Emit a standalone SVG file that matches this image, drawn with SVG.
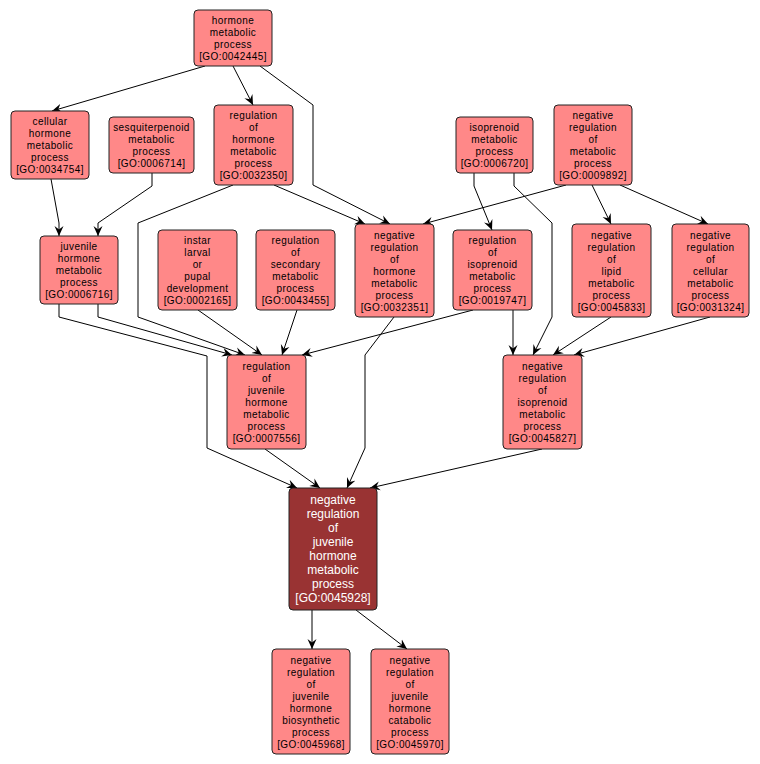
<svg xmlns="http://www.w3.org/2000/svg" width="760" height="764" viewBox="0 0 760 764">
<style>
.n rect{fill:#ff8888;stroke:#222;stroke-width:1}
.n text{font-family:"Liberation Sans",Arial,sans-serif;font-size:10px;letter-spacing:0.4px;fill:#000;text-anchor:middle}
.m rect{fill:#993333;stroke:#222;stroke-width:1}
.m text{font-family:"Liberation Sans",Arial,sans-serif;font-size:12px;fill:#fff;text-anchor:middle}
.e polyline{fill:none;stroke:#000;stroke-width:1;marker-end:url(#a)}
</style>
<defs>
<marker id="a" viewBox="0 -5 10 10" refX="10" refY="0" markerWidth="10" markerHeight="10" markerUnits="userSpaceOnUse" orient="auto">
<path d="M0,-4.5 L10,0 L0,4.5 L3.5,0 Z" fill="#000"/>
</marker>
</defs>
<rect width="760" height="764" fill="#fff"/>
<g id="connectors" class="e">
<polyline points="205,66 52,111"/>
<polyline points="233,66 253,105"/>
<polyline points="260,66 313,105 313,185 390,224"/>
<polyline points="274,185 365,224"/>
<polyline points="233,185 138,223 138,317 245,355"/>
<polyline points="152,173 152,186 98,223 98,236"/>
<polyline points="51,179 59,223 59,236"/>
<polyline points="474,173 474,186 492,230"/>
<polyline points="514,173 514,186 552,223 552,317 533,355"/>
<polyline points="566,185 423,224"/>
<polyline points="592,185 611,224"/>
<polyline points="620,185 708,224"/>
<polyline points="59,304 59,317 207,356 207,448 297,488"/>
<polyline points="98,304 98,317 232,355"/>
<polyline points="198,310 262,355"/>
<polyline points="297,310 282,355"/>
<polyline points="473,310 302,355"/>
<polyline points="513,310 513,355"/>
<polyline points="611,317 553,355"/>
<polyline points="710,317 574,355"/>
<polyline points="394,317 365,355 365,448 347,488"/>
<polyline points="265,449 320,488"/>
<polyline points="542,449 370,488"/>
<polyline points="312,610 312,649"/>
<polyline points="356,610 407,649"/>
</g>
<g id="GO0042445" class="n"><rect x="194" y="10" width="78" height="56" rx="4"/>
<text x="233" y="24">hormone</text><text x="233" y="36">metabolic</text><text x="233" y="48">process</text><text x="233" y="60">[GO:0042445]</text></g>
<g id="GO0034754" class="n"><rect x="11" y="111" width="78" height="68" rx="4"/>
<text x="50" y="125">cellular</text><text x="50" y="137">hormone</text><text x="50" y="149">metabolic</text><text x="50" y="161">process</text><text x="50" y="173">[GO:0034754]</text></g>
<g id="GO0006714" class="n"><rect x="109" y="117" width="85" height="56" rx="4"/>
<text x="151.5" y="131">sesquiterpenoid</text><text x="151.5" y="143">metabolic</text><text x="151.5" y="155">process</text><text x="151.5" y="167">[GO:0006714]</text></g>
<g id="GO0032350" class="n"><rect x="214" y="105" width="79" height="80" rx="4"/>
<text x="253.5" y="119">regulation</text><text x="253.5" y="131">of</text><text x="253.5" y="143">hormone</text><text x="253.5" y="155">metabolic</text><text x="253.5" y="167">process</text><text x="253.5" y="179">[GO:0032350]</text></g>
<g id="GO0006720" class="n"><rect x="456" y="117" width="77" height="56" rx="4"/>
<text x="494.5" y="131">isoprenoid</text><text x="494.5" y="143">metabolic</text><text x="494.5" y="155">process</text><text x="494.5" y="167">[GO:0006720]</text></g>
<g id="GO0009892" class="n"><rect x="554" y="105" width="78" height="80" rx="4"/>
<text x="593" y="119">negative</text><text x="593" y="131">regulation</text><text x="593" y="143">of</text><text x="593" y="155">metabolic</text><text x="593" y="167">process</text><text x="593" y="179">[GO:0009892]</text></g>
<g id="GO0006716" class="n"><rect x="40" y="236" width="78" height="68" rx="4"/>
<text x="79" y="250">juvenile</text><text x="79" y="262">hormone</text><text x="79" y="274">metabolic</text><text x="79" y="286">process</text><text x="79" y="298">[GO:0006716]</text></g>
<g id="GO0002165" class="n"><rect x="158" y="230" width="79" height="80" rx="4"/>
<text x="197.5" y="244">instar</text><text x="197.5" y="256">larval</text><text x="197.5" y="268">or</text><text x="197.5" y="280">pupal</text><text x="197.5" y="292">development</text><text x="197.5" y="304">[GO:0002165]</text></g>
<g id="GO0043455" class="n"><rect x="256" y="230" width="79" height="80" rx="4"/>
<text x="295.5" y="244">regulation</text><text x="295.5" y="256">of</text><text x="295.5" y="268">secondary</text><text x="295.5" y="280">metabolic</text><text x="295.5" y="292">process</text><text x="295.5" y="304">[GO:0043455]</text></g>
<g id="GO0032351" class="n"><rect x="355" y="224" width="79" height="93" rx="4"/>
<text x="394.5" y="238.5">negative</text><text x="394.5" y="250.5">regulation</text><text x="394.5" y="262.5">of</text><text x="394.5" y="274.5">hormone</text><text x="394.5" y="286.5">metabolic</text><text x="394.5" y="298.5">process</text><text x="394.5" y="310.5">[GO:0032351]</text></g>
<g id="GO0019747" class="n"><rect x="453" y="230" width="79" height="80" rx="4"/>
<text x="492.5" y="244">regulation</text><text x="492.5" y="256">of</text><text x="492.5" y="268">isoprenoid</text><text x="492.5" y="280">metabolic</text><text x="492.5" y="292">process</text><text x="492.5" y="304">[GO:0019747]</text></g>
<g id="GO0045833" class="n"><rect x="572" y="224" width="79" height="93" rx="4"/>
<text x="611.5" y="238.5">negative</text><text x="611.5" y="250.5">regulation</text><text x="611.5" y="262.5">of</text><text x="611.5" y="274.5">lipid</text><text x="611.5" y="286.5">metabolic</text><text x="611.5" y="298.5">process</text><text x="611.5" y="310.5">[GO:0045833]</text></g>
<g id="GO0031324" class="n"><rect x="672" y="224" width="77" height="93" rx="4"/>
<text x="710.5" y="238.5">negative</text><text x="710.5" y="250.5">regulation</text><text x="710.5" y="262.5">of</text><text x="710.5" y="274.5">cellular</text><text x="710.5" y="286.5">metabolic</text><text x="710.5" y="298.5">process</text><text x="710.5" y="310.5">[GO:0031324]</text></g>
<g id="GO0007556" class="n"><rect x="227" y="355" width="79" height="94" rx="4"/>
<text x="266.5" y="370">regulation</text><text x="266.5" y="382">of</text><text x="266.5" y="394">juvenile</text><text x="266.5" y="406">hormone</text><text x="266.5" y="418">metabolic</text><text x="266.5" y="430">process</text><text x="266.5" y="442">[GO:0007556]</text></g>
<g id="GO0045827" class="n"><rect x="503" y="355" width="79" height="94" rx="4"/>
<text x="542.5" y="370">negative</text><text x="542.5" y="382">regulation</text><text x="542.5" y="394">of</text><text x="542.5" y="406">isoprenoid</text><text x="542.5" y="418">metabolic</text><text x="542.5" y="430">process</text><text x="542.5" y="442">[GO:0045827]</text></g>
<g id="GO0045928" class="m"><rect x="289" y="488" width="88" height="122" rx="4"/>
<text x="333" y="503.5">negative</text><text x="333" y="517.5">regulation</text><text x="333" y="531.5">of</text><text x="333" y="545.5">juvenile</text><text x="333" y="559.5">hormone</text><text x="333" y="573.5">metabolic</text><text x="333" y="587.5">process</text><text x="333" y="601.5">[GO:0045928]</text></g>
<g id="GO0045968" class="n"><rect x="272" y="649" width="78" height="105" rx="4"/>
<text x="311" y="664">negative</text><text x="311" y="676">regulation</text><text x="311" y="688">of</text><text x="311" y="700">juvenile</text><text x="311" y="712">hormone</text><text x="311" y="724">biosynthetic</text><text x="311" y="736">process</text><text x="311" y="748">[GO:0045968]</text></g>
<g id="GO0045970" class="n"><rect x="371" y="649" width="78" height="105" rx="4"/>
<text x="410" y="664">negative</text><text x="410" y="676">regulation</text><text x="410" y="688">of</text><text x="410" y="700">juvenile</text><text x="410" y="712">hormone</text><text x="410" y="724">catabolic</text><text x="410" y="736">process</text><text x="410" y="748">[GO:0045970]</text></g>
</svg>
